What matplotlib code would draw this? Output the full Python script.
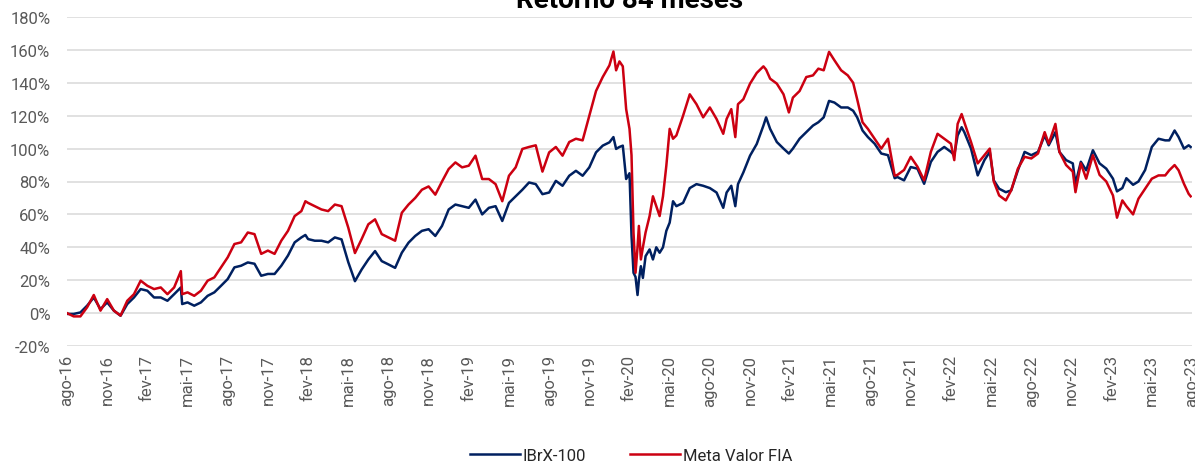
import matplotlib
matplotlib.use("Agg")
import matplotlib.pyplot as plt

# months elapsed since Aug-2016
months = [
    0.0, 0.5, 1.0, 1.5, 2.0, 2.5, 3.0, 3.5, 4.0, 4.5, 5.0, 5.5, 6.0, 6.5, 7.0, 7.5,
    8.0, 8.5, 8.6, 9.0, 9.5, 10.0, 10.5, 11.0, 11.5, 12.0, 12.5, 13.0, 13.5, 14.0,
    14.5, 15.0, 15.5, 16.0, 16.5, 17.0, 17.5, 17.8, 18.0, 18.5, 19.0, 19.5, 20.0,
    20.5, 21.0, 21.5, 22.0, 22.5, 23.0, 23.5, 24.0, 24.5, 25.0, 25.5, 26.0, 26.5,
    27.0, 27.5, 28.0, 28.5, 29.0, 29.5, 30.0, 30.5, 31.0, 31.5, 32.0, 32.5, 33.0,
    33.5, 34.0, 34.5, 35.0, 35.5, 36.0, 36.5, 37.0, 37.5, 38.0, 38.5, 39.0, 39.5,
    40.0, 40.5, 40.8, 41.0, 41.25, 41.5, 41.75, 42.0, 42.15, 42.3, 42.45, 42.6,
    42.7, 42.85, 43.0, 43.2, 43.5, 43.75, 44.0, 44.25, 44.5, 44.75, 45.0, 45.25,
    45.5, 46.0, 46.5, 47.0, 47.5, 48.0, 48.5, 49.0, 49.25, 49.6, 49.9, 50.1, 50.5,
    51.0, 51.5, 52.0, 52.2, 52.5, 53.0, 53.5, 53.9, 54.2, 54.7, 55.2, 55.7, 56.1,
    56.5, 56.9, 57.3, 57.8, 58.3, 58.7, 59.0, 59.4, 59.8, 60.3, 60.8, 61.3, 61.8,
    62.0, 62.5, 63.0, 63.5, 64.0, 64.5, 65.0, 65.5, 66.0, 66.25, 66.5, 66.8, 67.0,
    67.5, 68.0, 68.5, 68.9, 69.2, 69.6, 70.1, 70.5, 71.0, 71.5, 72.0, 72.5, 73.0,
    73.3, 73.8, 74.1, 74.6, 75.1, 75.3, 75.7, 76.1, 76.6, 77.1, 77.6, 78.1, 78.4,
    78.8, 79.1, 79.6, 80.0, 80.5, 81.0, 81.5, 82.0, 82.3, 82.7, 83.0, 83.4, 83.75,
    83.9,
]

ibrx = [
    -0.5, -0.5, 0.4, 4.5, 9.5, 2.4, 6.5, 1.5, -1.6, 5.5, 9.5, 14.6, 13.6, 9.5, 9.5, 7.5,
    11.5, 15.6, 5.5, 6.5, 4.5, 6.5, 10.5, 12.6, 16.6, 20.7, 27.8, 28.8, 30.8, 30.0,
    22.7, 23.8, 23.8, 28.8, 35.0, 43.0, 46.0, 47.5, 45.0, 44.0, 44.0, 43.0, 46.0,
    44.8, 31.0, 19.4, 26.5, 32.6, 37.7, 31.6, 29.6, 27.5, 36.7, 42.8, 46.9, 50.0,
    51.0, 46.9, 53.0, 63.0, 66.0, 65.0, 64.0, 69.0, 60.0, 64.0, 65.0, 56.0, 67.0,
    71.0, 75.0, 79.4, 78.4, 72.3, 73.3, 80.4, 77.4, 83.5, 86.5, 83.5, 88.6, 97.7,
    101.8, 103.8, 107.0, 99.8, 101.0, 101.8, 81.5, 85.0, 47.0, 24.5, 22.0, 11.0,
    20.0, 28.5, 21.4, 34.6, 38.7, 32.6, 40.0, 36.7, 40.0, 50.0, 55.0, 68.0,
    65.0, 67.0, 76.0, 78.4, 77.4, 76.0, 73.3, 64.0, 73.3, 77.4, 65.0, 78.4, 85.5,
    95.7, 102.8, 114.0, 119.0, 112.0, 104.0, 100.0, 97.0, 100.0, 106.0, 110.0, 114.0, 116.0,
    119.0, 129.0, 128.0, 125.0, 125.0, 123.0, 119.0, 111.0, 107.0, 103.0, 97.0, 96.0, 82.0,
    82.7, 80.7, 88.8, 87.8, 78.6, 91.9, 98.0, 101.0, 98.0, 96.0, 108.0, 113.0, 110.0,
    100.0, 83.7, 93.0, 98.0, 80.7, 75.6, 73.5, 74.6, 86.8, 98.0, 96.0, 98.0, 108.0,
    102.0, 110.0, 98.0, 93.0, 91.0, 78.6, 92.0, 86.8, 99.0, 91.0, 87.8, 81.7, 74.0,
    76.0, 82.0, 78.0, 80.0, 87.0, 101.0, 106.0, 105.0, 105.0, 111.0, 107.0, 100.0, 102.0,
    101.0,
]

meta_valor = [
    0.0, -2.0, -2.0, 3.5, 11.0, 1.5, 8.5, 1.5, -1.5, 7.5, 11.5, 19.7, 16.6, 14.6, 15.6, 11.5,
    15.6, 25.5, 11.5, 12.6, 10.5, 13.6, 19.7, 21.7, 27.8, 33.9, 42.0, 43.0, 49.0, 48.0,
    36.0, 38.0, 36.0, 44.0, 50.0, 59.0, 62.0, 68.0, 67.0, 65.0, 63.0, 62.0, 66.0,
    65.0, 52.0, 36.5, 45.0, 54.0, 57.0, 48.0, 46.0, 44.0, 61.0, 66.0, 70.0, 75.0,
    77.0, 72.0, 80.0, 87.6, 91.6, 88.6, 89.6, 95.7, 81.5, 81.5, 78.4, 68.0, 83.5,
    88.6, 99.8, 101.0, 102.0, 86.0, 97.7, 101.0, 95.7, 104.0, 106.0, 105.0, 120.0, 135.0,
    143.5, 150.6, 159.0, 147.6, 153.0, 150.0, 124.0, 112.0, 96.0, 49.0, 24.5, 40.0,
    53.0, 32.6, 40.0, 49.0, 59.0, 71.0, 65.0, 59.0, 71.0, 89.6, 112.0, 106.0,
    108.0, 120.0, 133.0, 127.0, 119.0, 125.0, 118.0, 109.0, 118.0, 124.0, 107.0, 127.0, 130.0,
    139.5, 146.0, 150.0, 148.0, 142.5, 139.5, 133.0, 122.0, 131.0, 135.0, 143.5, 144.5, 148.6,
    147.6, 158.8, 153.7, 147.6, 144.5, 140.0, 130.0, 116.0, 112.0, 106.0, 100.0, 106.0, 83.5,
    84.0, 87.0, 95.0, 89.0, 80.7, 98.0, 109.0, 106.0, 103.0, 93.0, 115.0, 121.0, 116.0,
    104.0, 91.0, 96.0, 100.0, 80.0, 71.5, 68.5, 74.6, 87.8, 95.0, 94.0, 97.0, 110.0,
    103.0, 115.0, 98.0, 90.0, 86.0, 73.5, 91.0, 81.7, 96.0, 84.0, 80.0, 71.5, 58.0,
    68.5, 65.0, 60.0, 69.5, 75.6, 81.7, 83.7, 83.7, 86.8, 90.0, 86.8, 78.6, 72.5,
    71.0,
]

tick_labels = [
    "ago-16", "nov-16", "fev-17", "mai-17", "ago-17", "nov-17", "fev-18", "mai-18",
    "ago-18", "nov-18", "fev-19", "mai-19", "ago-19", "nov-19", "fev-20", "mai-20",
    "ago-20", "nov-20", "fev-21", "mai-21", "ago-21", "nov-21", "fev-22", "mai-22",
    "ago-22", "nov-22", "fev-23", "mai-23", "ago-23",
]
y_ticks = [-20, 0, 20, 40, 60, 80, 100, 120, 140, 160, 180]

plt.rcParams['font.family'] = ['Roboto', 'DejaVu Sans']

fig = plt.figure(figsize=(11.95, 4.64), dpi=100)
ax = fig.add_axes([67 / 1195, 1 - 347 / 464, (1192 - 67) / 1195, (347 - 18) / 464])

ax.plot(months, ibrx, color='#002060', linewidth=1.8, label='IBrX-100', zorder=3)
ax.plot(months, meta_valor, color='#CC0011', linewidth=1.8, label='Meta Valor FIA', zorder=3)

ax.set_xlim(0, 84)
ax.set_ylim(-20, 180)
ax.set_yticks(y_ticks)
ax.set_yticklabels([f"{v}%" for v in y_ticks])
ax.set_xticks(range(0, 85, 3))
ax.set_xticklabels(tick_labels, rotation=90)

ax.grid(axis='y', color='#d9d9d9', linewidth=1.1)
ax.set_axisbelow(True)
for side in ax.spines.values():
    side.set_visible(False)
ax.tick_params(axis='y', length=0, pad=12, labelsize=12, labelcolor='#595959')
ax.tick_params(axis='x', length=0, pad=6, labelsize=12, labelcolor='#595959')

# title sits mostly above the canvas, as in the source image
fig.text(0.5265, 1 - 8 / 464, "Retorno 84 meses", ha='center', va='baseline',
         fontsize=20, fontweight='bold', color='#000000')

fig.legend(loc='center', bbox_to_anchor=(0.528, 0.016), ncol=2, frameon=False,
           fontsize=12, handlelength=3.0, columnspacing=2.6, handletextpad=0.2,
           labelcolor='#262626')

fig.savefig("out.png", dpi=100)
